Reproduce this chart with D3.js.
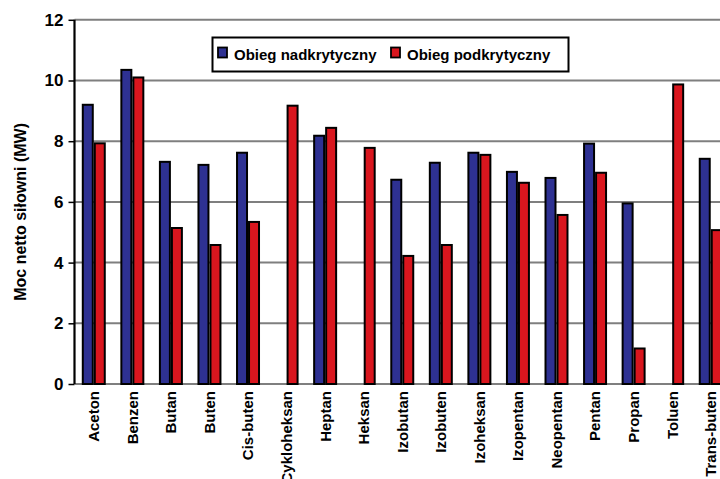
<!DOCTYPE html>
<html>
<head>
<meta charset="utf-8">
<script src="https://cdn.jsdelivr.net/npm/d3@7"></script>
<style>
  html, body { margin: 0; padding: 0; background: #fff; }
  svg { display: block; }
  text { font-family: "Liberation Sans", Arial, sans-serif; }
</style>
</head>
<body>
<svg id="chart" width="720" height="479"></svg>
<script>
// Czynniki robocze
const categories = ["Aceton", "Benzen", "Butan", "Buten", "Cis-buten", "Cykloheksan",
  "Heptan", "Heksan", "Izobutan", "Izobuten", "Izoheksan", "Izopentan",
  "Neopentan", "Pentan", "Propan", "Toluen", "Trans-buten"];

// Moc netto siłowni [MW]; null = brak wariantu nadkrytycznego
const nadkrytyczny = [9.2, 10.35, 7.32, 7.22, 7.62, null, 8.18, null, 6.73, 7.29,
  7.62, 6.99, 6.79, 7.92, 5.95, null, 7.42];
const podkrytyczny = [7.93, 10.1, 5.14, 4.58, 5.34, 9.17, 8.44, 7.78, 4.22, 4.58,
  7.55, 6.63, 5.57, 6.96, 1.17, 9.87, 5.07];

const seriesNames = ["Obieg nadkrytyczny", "Obieg podkrytyczny"];
const seriesColors = ["#2e3192", "#d9161e"];
const yTicks = [0, 2, 4, 6, 8, 10, 12];

const svg = d3.select("#chart");
const plotLeft = 74.5, plotTop = 19.8, plotBottom = 384;
const step = 38.56;

const x0 = d3.scaleBand()
  .domain(categories)
  .range([plotLeft, plotLeft + step * categories.length])
  .paddingInner(0.378)
  .paddingOuter(0.189);

const x1 = d3.scaleBand()
  .domain(seriesNames)
  .range([0, x0.bandwidth()]);

const y = d3.scaleLinear().domain([0, 12]).range([plotBottom, plotTop]);

// Linie siatki
svg.append("g")
  .selectAll("line")
  .data(yTicks)
  .join("line")
  .attr("x1", plotLeft)
  .attr("x2", 720)
  .attr("y1", d => y(d))
  .attr("y2", d => y(d))
  .attr("stroke", "#7f7f7f")
  .attr("stroke-width", 2);

// Słupki
const rows = categories.map((c, i) => ({
  cat: c,
  vals: [nadkrytyczny[i], podkrytyczny[i]]
}));

const groups = svg.append("g")
  .selectAll("g")
  .data(rows)
  .join("g")
  .attr("transform", d => `translate(${x0(d.cat)},0)`);

groups.selectAll("rect")
  .data(d => d.vals.map((v, k) => ({ v, k })).filter(e => e.v !== null))
  .join("rect")
  .attr("x", e => x1(seriesNames[e.k]) + 1)
  .attr("width", x1.bandwidth() - 2)
  .attr("y", e => y(e.v))
  .attr("height", e => y(0) - y(e.v))
  .attr("fill", e => seriesColors[e.k])
  .attr("stroke", "#000")
  .attr("stroke-width", 2);

// Oś Y
const yAxis = d3.axisLeft(y).tickValues(yTicks).tickSize(6).tickPadding(5);
const gy = svg.append("g")
  .attr("transform", `translate(${plotLeft},0)`)
  .call(yAxis);
gy.select(".domain").attr("stroke", "#000").attr("stroke-width", 2.2)
  .attr("d", `M0,${plotTop}V${plotBottom}`);
gy.selectAll(".tick line").attr("stroke", "#000").attr("stroke-width", 1.5);
gy.selectAll(".tick text")
  .attr("font-size", 17)
  .attr("font-weight", "bold")
  .attr("fill", "#000")
  .attr("font-family", "Liberation Sans, Arial, sans-serif");

// Oś X (etykiety pionowe)
const xAxis = d3.axisBottom(x0).tickSize(0).tickPadding(0);
const gx = svg.append("g")
  .attr("transform", `translate(0,${plotBottom})`)
  .call(xAxis);
gx.select(".domain").remove();
gx.selectAll(".tick text")
  .attr("font-size", 15)
  .attr("font-weight", "bold")
  .attr("fill", "#000")
  .attr("font-family", "Liberation Sans, Arial, sans-serif")
  .attr("transform", "rotate(-90)")
  .attr("text-anchor", "end")
  .attr("x", -7)
  .attr("y", 0)
  .attr("dy", "0.36em");

// Tytuł osi Y
svg.append("text")
  .attr("transform", `translate(26,${(plotTop + plotBottom) / 2 + 10}) rotate(-90)`)
  .attr("text-anchor", "middle")
  .attr("font-size", 16)
  .attr("font-weight", "bold")
  .text("Moc netto siłowni (MW)");

// Legenda
const legend = svg.append("g");
legend.append("rect")
  .attr("x", 212.5).attr("y", 37.5)
  .attr("width", 356).attr("height", 34)
  .attr("fill", "#fff").attr("stroke", "#000").attr("stroke-width", 2);

const legendX = [218, 391];
seriesNames.forEach((name, k) => {
  legend.append("rect")
    .attr("x", legendX[k]).attr("y", 47.5)
    .attr("width", 9).attr("height", 10)
    .attr("fill", seriesColors[k])
    .attr("stroke", "#000").attr("stroke-width", 1.8);
  legend.append("text")
    .attr("x", legendX[k] + 16).attr("y", 60)
    .attr("font-size", 15)
    .attr("font-weight", "bold")
    .text(name);
});
</script>
</body>
</html>
